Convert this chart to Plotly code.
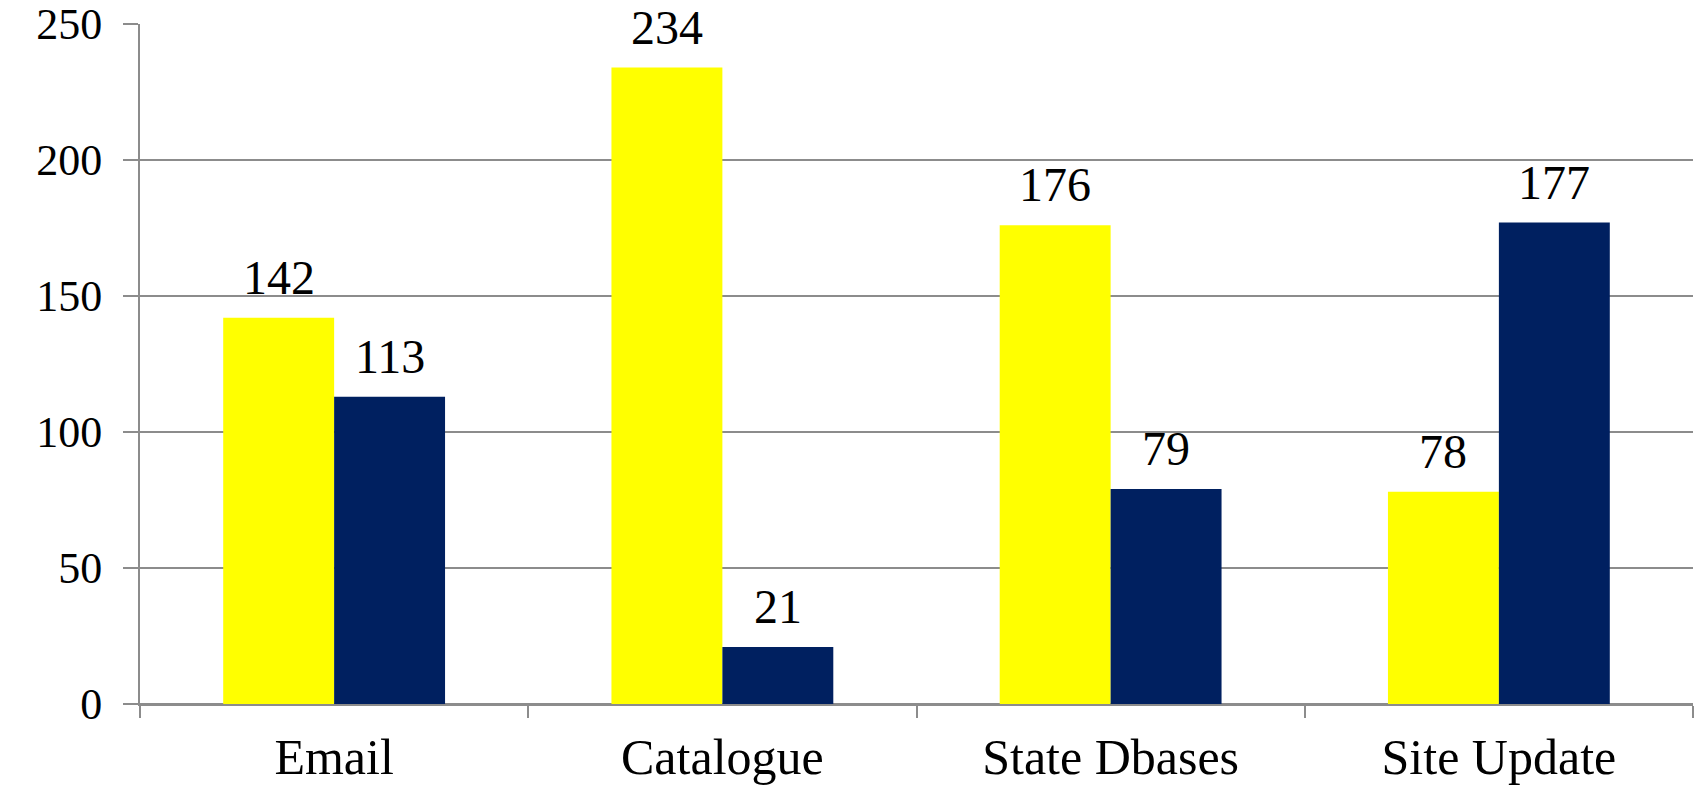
import plotly.graph_objects as go

categories = ["Email", "Catalogue", "State Dbases", "Site Update"]
series_a = [142, 234, 176, 78]
series_b = [113, 21, 79, 177]
y_ticks = [0, 50, 100, 150, 200, 250]

YELLOW = "#FFFF00"
NAVY = "#002060"
GRID = "#8C8C8C"
FONT = "Liberation Serif, Times New Roman, serif"

BARGAP = 0.4286
HALF_BAR = (1 - BARGAP) / 4  # centre offset of each bar within its category

fig = go.Figure()
fig.add_trace(go.Bar(x=categories, y=series_a, marker=dict(color=YELLOW, line=dict(width=0)),
                     offsetgroup="a"))
fig.add_trace(go.Bar(x=categories, y=series_b, marker=dict(color=NAVY, line=dict(width=0)),
                     offsetgroup="b"))

# value labels above each bar
annotations = []
for i, cat in enumerate(categories):
    for val, shift in ((series_a[i], -HALF_BAR), (series_b[i], HALF_BAR)):
        annotations.append(dict(
            x=i + shift, y=val, xref="x", yref="y", text=str(val),
            showarrow=False, yanchor="bottom", xanchor="center", yshift=12,
            font=dict(family=FONT, size=48, color="#000000"),
        ))

fig.update_layout(
    width=1696, height=788,
    margin=dict(l=140, r=3, t=24, b=84, autoexpand=False),
    paper_bgcolor="white", plot_bgcolor="white",
    barmode="group", bargap=BARGAP, bargroupgap=0,
    showlegend=False,
    annotations=annotations,
    font=dict(family=FONT, color="#000000"),
)
fig.update_xaxes(
    type="category", range=[-0.5, 3.5], automargin=False,
    showline=True, linecolor=GRID, linewidth=2,
    ticks="outside", tickson="boundaries", ticklen=12, tickwidth=2, tickcolor=GRID,
    tickfont=dict(family=FONT, size=50, color="#000000"),
    ticklabelstandoff=8, ticklabeloverflow="allow",
    showgrid=False,
)
fig.update_yaxes(
    range=[0, 250], tickvals=y_ticks, ticktext=[str(v) for v in y_ticks],
    automargin=False,
    showline=True, linecolor=GRID, linewidth=2,
    showgrid=True, gridcolor=GRID, gridwidth=2,
    zeroline=True, zerolinecolor=GRID, zerolinewidth=2,
    ticks="outside", ticklen=15, tickwidth=2, tickcolor=GRID,
    tickfont=dict(family=FONT, size=44, color="#000000"),
    ticklabelstandoff=12, ticklabeloverflow="allow",
)

fig.write_html("out.html")
